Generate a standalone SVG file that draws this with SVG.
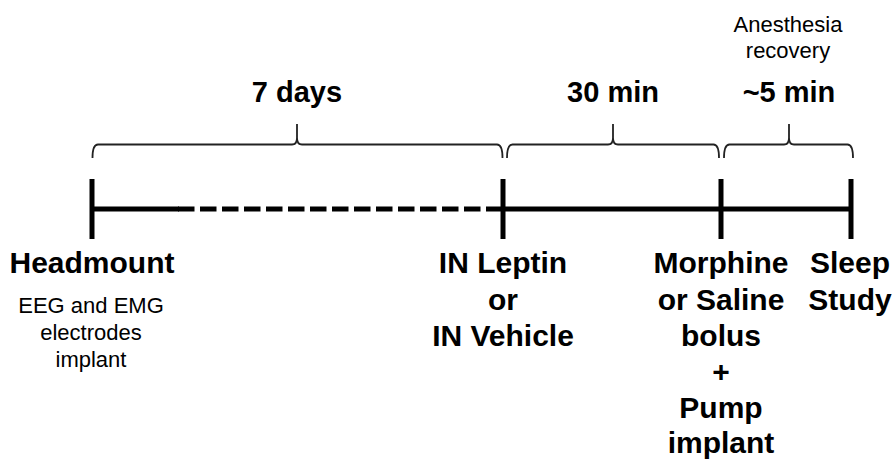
<svg xmlns="http://www.w3.org/2000/svg" width="896" height="461" viewBox="0 0 896 461">
<style>
.bold{font-family:"Liberation Sans",Arial,sans-serif;font-weight:bold;font-size:30px;fill:#000;text-anchor:middle}
.top{font-family:"Liberation Sans",Arial,sans-serif;font-weight:bold;font-size:29px;fill:#000;text-anchor:middle}
.reg{font-family:"Liberation Sans",Arial,sans-serif;font-size:22px;fill:#000;text-anchor:middle}
.tl{stroke:#000;stroke-width:5;fill:none}
.brace{stroke:#222;stroke-width:1.8;fill:none}
</style>
<rect width="896" height="461" fill="#fff"/>
<g id="connectors">
<line class="tl" x1="92" y1="209" x2="179" y2="209"/>
<line class="tl" x1="178" y1="209" x2="503" y2="209" stroke-dasharray="16.5 5.5"/>
<line class="tl" x1="503" y1="209" x2="851" y2="209"/>
<line class="tl" x1="92" y1="179" x2="92" y2="239"/>
<line class="tl" x1="503" y1="179" x2="503" y2="239"/>
<line class="tl" x1="721" y1="179" x2="721" y2="239"/>
<line class="tl" x1="851" y1="179" x2="851" y2="239"/>
<path class="brace" d="M92.5,158 Q92.5,144.5 98,144.5 H292 Q297,144.5 297,138 V124 M297,138 Q297,144.5 302,144.5 H497 Q502.5,144.5 502.5,158"/>
<path class="brace" d="M507,158 Q507,144.5 512.5,144.5 H608 Q613,144.5 613,138 V124 M613,138 Q613,144.5 618,144.5 H713.5 Q719,144.5 719,158"/>
<path class="brace" d="M724,158 Q724,144.5 729.5,144.5 H784 Q789,144.5 789,138 V124 M789,138 Q789,144.5 794,144.5 H847.5 Q853,144.5 853,158"/>
</g>
<g id="label-7days"><text class="top" x="297" y="102">7 days</text></g>
<g id="label-30min"><text class="top" x="613" y="102">30 min</text></g>
<g id="label-5min"><text class="top" x="789" y="102">~5 min</text></g>
<g id="label-anesthesia"><text class="reg" x="788" y="32">Anesthesia</text><text class="reg" x="788" y="58">recovery</text></g>
<g id="node-headmount">
<text class="bold" x="92" y="273">Headmount</text>
<text class="reg" x="91" y="313">EEG and EMG</text>
<text class="reg" x="91" y="340">electrodes</text>
<text class="reg" x="91" y="367">implant</text>
</g>
<g id="node-leptin">
<text class="bold" x="503" y="273">IN Leptin</text>
<text class="bold" x="503" y="310">or</text>
<text class="bold" x="503" y="346">IN Vehicle</text>
</g>
<g id="node-morphine">
<text class="bold" x="721" y="273">Morphine</text>
<text class="bold" x="721" y="310">or Saline</text>
<text class="bold" x="721" y="346">bolus</text>
<text class="bold" x="721" y="382">+</text>
<text class="bold" x="721" y="418">Pump</text>
<text class="bold" x="721" y="453">implant</text>
</g>
<g id="node-sleep">
<text class="bold" x="850" y="273">Sleep</text>
<text class="bold" x="850" y="310">Study</text>
</g>
</svg>
